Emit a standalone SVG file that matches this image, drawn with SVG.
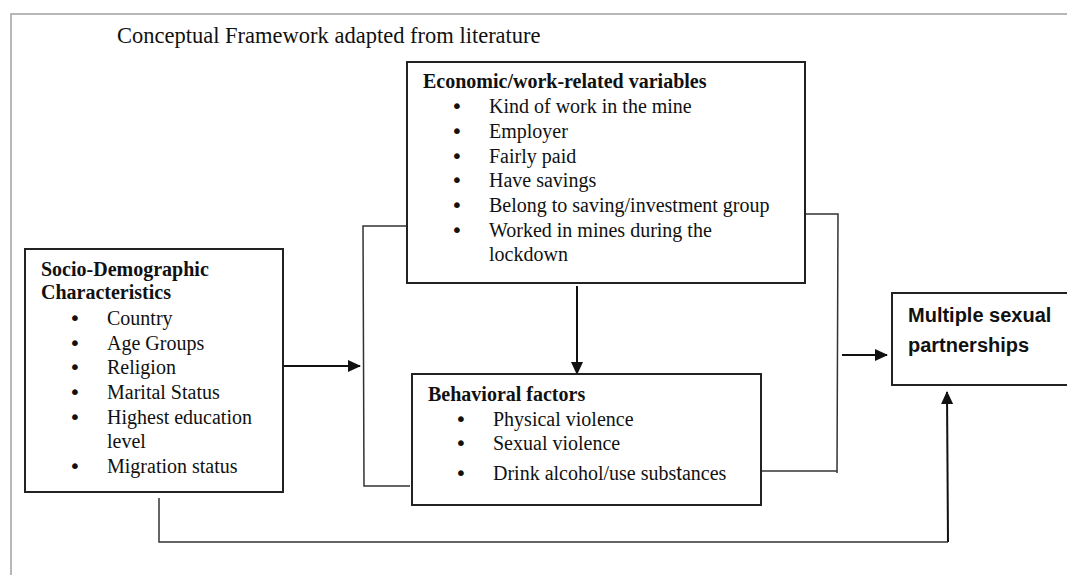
<svg xmlns="http://www.w3.org/2000/svg" width="1067" height="575" viewBox="0 0 1067 575">
<style>
  .frame{fill:none;stroke:#a0a0a0;stroke-width:1.5}
  .box{fill:#fff;stroke:#222;stroke-width:2}
  .conn{fill:none;stroke:#333;stroke-width:1.5}
  .arrow{fill:none;stroke:#111;stroke-width:2}
  .t{font-family:"Liberation Serif","Times New Roman",serif;font-size:20px;fill:#111}
  .bl{font-family:"DejaVu Sans",sans-serif;font-size:20px;fill:#111;text-anchor:middle}
  .b{font-weight:bold}
  .title{font-family:"Liberation Serif","Times New Roman",serif;font-size:22.5px;fill:#111}
  .sans{font-family:"Liberation Sans",Arial,sans-serif;font-weight:bold;font-size:20px;fill:#111}
</style>
<defs>
  <marker id="ah" viewBox="0 0 13 12" refX="12" refY="6" markerWidth="13" markerHeight="12" markerUnits="userSpaceOnUse" orient="auto">
    <path d="M0,0 L13,6 L0,12 Z" fill="#111"/>
  </marker>
</defs>
<rect width="1067" height="575" fill="#fff"/>
<path class="frame" d="M11,575 L11,14 L1067,14"/>
<text class="title" x="117" y="43">Conceptual Framework adapted from literature</text>

<g id="connectors">
  <polyline class="conn" points="407,226 363,226 364,486 410,486"/>
  <polyline class="conn" points="805,214 838,214 837,473"/>
  <polyline class="conn" points="761,471 837,471"/>
  <polyline class="conn" points="159,498 159,542 948,542"/>
  <line class="arrow" x1="283" y1="366" x2="360" y2="366" marker-end="url(#ah)"/>
  <line class="arrow" x1="577" y1="286" x2="577" y2="374" marker-end="url(#ah)"/>
  <line class="arrow" x1="842" y1="355" x2="887" y2="355" marker-end="url(#ah)"/>
  <line class="arrow" x1="948" y1="542" x2="947" y2="392" marker-end="url(#ah)"/>
</g>

<g id="economic">
  <rect class="box" x="407" y="62" width="398" height="221"/>
  <text class="t b" x="423" y="88">Economic/work-related variables</text>
  <text class="bl" x="457" y="113">•</text><text class="t" x="489" y="113">Kind of work in the mine</text>
  <text class="bl" x="457" y="138">•</text><text class="t" x="489" y="138">Employer</text>
  <text class="bl" x="457" y="163">•</text><text class="t" x="489" y="163">Fairly paid</text>
  <text class="bl" x="457" y="187">•</text><text class="t" x="489" y="187">Have savings</text>
  <text class="bl" x="457" y="212">•</text><text class="t" x="489" y="212">Belong to saving/investment group</text>
  <text class="bl" x="457" y="237">•</text><text class="t" x="489" y="237">Worked in mines during the</text>
  <text class="t" x="489" y="261">lockdown</text>
</g>

<g id="socio">
  <rect class="box" x="25" y="249" width="258" height="243"/>
  <text class="t b" x="41" y="276">Socio-Demographic</text>
  <text class="t b" x="41" y="299">Characteristics</text>
  <text class="bl" x="75" y="325">•</text><text class="t" x="107" y="325">Country</text>
  <text class="bl" x="75" y="350">•</text><text class="t" x="107" y="350">Age Groups</text>
  <text class="bl" x="75" y="374">•</text><text class="t" x="107" y="374">Religion</text>
  <text class="bl" x="75" y="399">•</text><text class="t" x="107" y="399">Marital Status</text>
  <text class="bl" x="75" y="424">•</text><text class="t" x="107" y="424">Highest education</text>
  <text class="t" x="107" y="448">level</text>
  <text class="bl" x="75" y="473">•</text><text class="t" x="107" y="473">Migration status</text>
</g>

<g id="behavioral">
  <rect class="box" x="412" y="374" width="349" height="131"/>
  <text class="t b" x="428" y="401">Behavioral factors</text>
  <text class="bl" x="461" y="426">•</text><text class="t" x="493" y="426">Physical violence</text>
  <text class="bl" x="461" y="450">•</text><text class="t" x="493" y="450">Sexual violence</text>
  <text class="bl" x="461" y="480">•</text><text class="t" x="493" y="480">Drink alcohol/use subs<tspan font-family="Liberation Sans, Arial, sans-serif">t</tspan>ances</text>
</g>

<g id="outcome">
  <rect class="box" x="892" y="293" width="200" height="92"/>
  <text class="sans" x="908" y="322">Multiple sexual</text>
  <text class="sans" x="908" y="352">partnerships</text>
</g>
</svg>
